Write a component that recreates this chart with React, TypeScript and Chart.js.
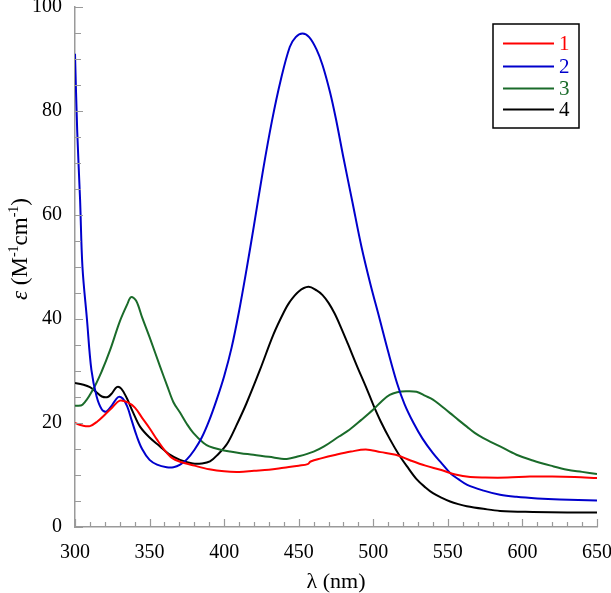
import React, { useEffect, useRef } from "react";
import { Chart, registerables } from "chart.js";

Chart.register(...registerables);

// ---- Data ----
const seriesLabels = ["1", "2", "3", "4"];
const seriesColors = ["#ff0000", "#0000cc", "#1a6b2a", "#000000"];

const wl1 = [300, 305, 310, 315, 320, 325, 330, 335, 340, 345, 350, 355, 360, 365, 370, 380, 390, 400, 410, 420, 430, 440, 450, 456, 458, 465, 475, 485, 495, 505, 515, 525, 535, 545, 555, 565, 575, 590, 605, 620, 635, 650];
const eps1 = [20, 19.5, 19.4, 20.3, 21.6, 23, 24.3, 24, 23, 21, 19, 16.8, 14.8, 13.3, 12.6, 11.8, 11.1, 10.7, 10.6, 10.8, 11, 11.4, 11.8, 12.1, 12.6, 13.2, 13.9, 14.5, 14.9, 14.4, 13.9, 12.8, 11.8, 11, 10.1, 9.6, 9.5, 9.5, 9.7, 9.7, 9.6, 9.4];

const wl2 = [300, 301.5, 303.4, 305, 308, 311, 314.5, 318, 321, 325, 329, 332, 335, 338, 341.5, 345, 350, 355, 361.5, 366, 370.5, 375, 380, 385, 390, 395, 400, 405, 410, 415, 420, 426, 432, 438, 444, 448, 452.5, 457, 462, 466, 471, 475, 480, 486, 492, 498, 504, 510, 516, 521, 527, 533, 540, 546, 551.5, 557, 563, 574, 585, 596, 610, 625, 650];
const eps2 = [91, 76, 63, 50, 40, 30.2, 25.1, 22.6, 22.2, 23.5, 25, 24.7, 23.2, 20.5, 17.4, 15, 12.9, 12, 11.5, 11.5, 12, 13, 14.8, 17.2, 20.5, 24.5, 29, 34.5, 41.5, 49.5, 58, 68.5, 78, 86, 92.3, 94.2, 94.9, 94.2, 91.8, 88.8, 83.6, 78.4, 71, 62.5, 54, 46.8, 40.3, 33.7, 27.6, 23.6, 20, 17, 14.2, 12.2, 10.4, 9.2, 8.1, 7, 6.2, 5.8, 5.5, 5.3, 5.1];

const wl3 = [300, 305, 312, 318, 323.5, 330, 335, 337.6, 341, 345, 350, 357, 362, 366, 370.4, 375, 379.3, 386, 390, 397, 404, 411, 419.6, 430, 442, 450, 460, 467, 477, 484, 492, 500, 506, 511, 516, 522, 529, 535, 540, 545, 551.5, 557, 562.7, 568, 573.8, 585, 596, 607, 619, 630, 640, 650];
const eps3 = [23.3, 23.5, 26.4, 30, 34, 39.5, 42.8, 44.2, 43.5, 40.3, 36.5, 30.9, 27, 24, 22, 19.8, 18.1, 16.2, 15.5, 14.9, 14.5, 14.2, 13.9, 13.5, 13.1, 13.6, 14.5, 15.5, 17.4, 18.7, 20.6, 22.6, 24.3, 25.4, 25.9, 26.1, 26, 25.2, 24.5, 23.4, 21.9, 20.6, 19.3, 18.1, 17.1, 15.5, 13.9, 12.8, 11.8, 11, 10.6, 10.2];

const wl4 = [300, 305, 310, 314, 318, 322, 325, 328, 331, 334.7, 339, 343.6, 350, 357, 363, 370.4, 379, 385, 390.5, 396, 402, 408, 415, 424, 433, 440, 444, 450, 456.5, 462, 466, 470, 474, 478, 483, 489, 495, 500, 505, 511.3, 517, 522.5, 529, 535, 540, 546, 551.5, 557, 562.7, 573.8, 585, 607, 630, 650];
const eps4 = [27.7, 27.4, 26.9, 26, 25.1, 25, 25.8, 26.9, 26.6, 24.8, 22, 19.3, 17.2, 15.5, 14, 12.9, 12.2, 12.2, 12.6, 14, 16, 19.4, 23.8, 30.2, 37, 41.3, 43.3, 45.3, 46.2, 45.5, 44.6, 43.1, 41.1, 38.6, 35.2, 31, 27, 23.5, 20.3, 16.8, 14, 11.7, 9.2, 7.6, 6.5, 5.6, 4.9, 4.4, 4, 3.5, 3.1, 2.9, 2.8, 2.8];

const xMin = 300;
const xMax = 650;
const xMajor = 50;
const xMinor = 10;
const yMin = 0;
const yMax = 100;
const yMajor = 20;
const yMinor = 5;

const xTitle = "λ (nm)";
const yTitleParts = [
  { t: "ε", italic: true, sup: false },
  { t: " (M", italic: false, sup: false },
  { t: "-1", italic: false, sup: true },
  { t: "cm", italic: false, sup: false },
  { t: "-1", italic: false, sup: true },
  { t: ")", italic: false, sup: false },
];

const SERIF = "'Liberation Serif', 'DejaVu Serif', serif";
const AXIS_GRAY = "#9a9a9a";

const tickPlugin = {
  id: "innerTicks",
  afterDraw(chart: any) {
    const { ctx, chartArea, scales } = chart;
    const xs = scales.x;
    const ys = scales.y;
    ctx.save();
    ctx.strokeStyle = AXIS_GRAY;
    ctx.lineWidth = 1.2;
    ctx.beginPath();
    for (let v = xMin; v <= xMax + 0.001; v += xMinor) {
      const px = Math.round(xs.getPixelForValue(v)) + 0.5;
      const len = v % xMajor === 0 ? 8 : 5;
      ctx.moveTo(px, chartArea.bottom);
      ctx.lineTo(px, chartArea.bottom - len);
    }
    for (let v = yMin; v <= yMax + 0.001; v += yMinor) {
      const py = Math.round(ys.getPixelForValue(v)) + 0.5;
      const len = v % yMajor === 0 ? 8 : 6;
      ctx.moveTo(chartArea.left, py);
      ctx.lineTo(chartArea.left + len, py);
    }
    ctx.stroke();

    // y-axis title
    const cy = 249;
    const cx = 19;
    ctx.translate(cx, cy);
    ctx.rotate(-Math.PI / 2);
    const fontFor = (p: any) =>
      `${p.italic ? "italic " : ""}${p.sup ? 14 : 23}px ${SERIF}`;
    let total = 0;
    for (const p of yTitleParts) {
      ctx.font = fontFor(p);
      total += ctx.measureText(p.t).width;
    }
    let x = -total / 2;
    ctx.fillStyle = "#000";
    ctx.textBaseline = "alphabetic";
    for (const p of yTitleParts) {
      ctx.font = fontFor(p);
      ctx.fillText(p.t, x, p.sup ? -1 : 8);
      x += ctx.measureText(p.t).width;
    }
    ctx.restore();

    // legend box
    ctx.save();
    const bx = 493, by = 24, bw = 86, bh = 104;
    ctx.strokeStyle = "#000";
    ctx.lineWidth = 1.5;
    ctx.strokeRect(bx, by, bw, bh);
    const rows = [43, 66, 88, 109];
    chart.data.datasets.forEach((ds: any, i: number) => {
      ctx.strokeStyle = ds.borderColor;
      ctx.lineWidth = 1.8;
      ctx.beginPath();
      ctx.moveTo(503, rows[i] + 0.5);
      ctx.lineTo(554, rows[i] + 0.5);
      ctx.stroke();
      ctx.fillStyle = ds.borderColor;
      ctx.font = `21px ${SERIF}`;
      ctx.textBaseline = "middle";
      ctx.fillText(ds.label, 559, rows[i] + 1);
    });
    ctx.restore();
  },
};

export default function App() {
  const ref = useRef<HTMLCanvasElement | null>(null);
  useEffect(() => {
    if (!ref.current) return;
    const wls = [wl1, wl2, wl3, wl4];
    const eps = [eps1, eps2, eps3, eps4];
    const chart = new Chart(ref.current, {
      type: "line",
      data: {
        datasets: seriesLabels.map((label, i) => ({
          label,
          data: wls[i].map((x, j) => ({ x, y: eps[i][j] })),
          borderColor: seriesColors[i],
          backgroundColor: seriesColors[i],
          borderWidth: 2,
          pointRadius: 0,
          fill: false,
          tension: 0.35,
        })),
      },
      options: {
        animation: false,
        responsive: false,
        events: [],
        layout: { padding: { top: 7, right: 14, left: 0, bottom: 0 } },
        plugins: {
          legend: { display: false },
          tooltip: { enabled: false },
        },
        scales: {
          x: {
            type: "linear",
            min: xMin,
            max: xMax,
            grid: { display: false, drawTicks: false },
            border: { display: true, color: AXIS_GRAY, width: 1.5 },
            ticks: {
              stepSize: xMajor,
              color: "#000",
              font: { family: SERIF, size: 20 },
              padding: 14,
              maxRotation: 0,
            },
            title: {
              display: true,
              text: xTitle,
              color: "#000",
              font: { family: SERIF, size: 22, lineHeight: 1 },
              padding: { top: 0, bottom: 0 },
            },
            afterFit: (s: any) => {
              s.height = 66;
              s.paddingLeft = 0;
              s.paddingRight = 0;
            },
          },
          y: {
            type: "linear",
            min: yMin,
            max: yMax,
            grid: { display: false, drawTicks: false },
            border: { display: true, color: AXIS_GRAY, width: 1.5 },
            ticks: {
              stepSize: yMajor,
              color: "#000",
              font: { family: SERIF, size: 20 },
              padding: 13,
            },
            afterFit: (s: any) => {
              s.width = 75;
              s.paddingTop = 0;
              s.paddingBottom = 0;
            },
          },
        },
      },
      plugins: [tickPlugin],
    });
    return () => chart.destroy();
  }, []);
  return (
    <div style={{ position: "fixed", left: 0, top: 0, width: 611, height: 593, background: "#fff" }}>
      <canvas ref={ref} width={611} height={593} />
    </div>
  );
}
